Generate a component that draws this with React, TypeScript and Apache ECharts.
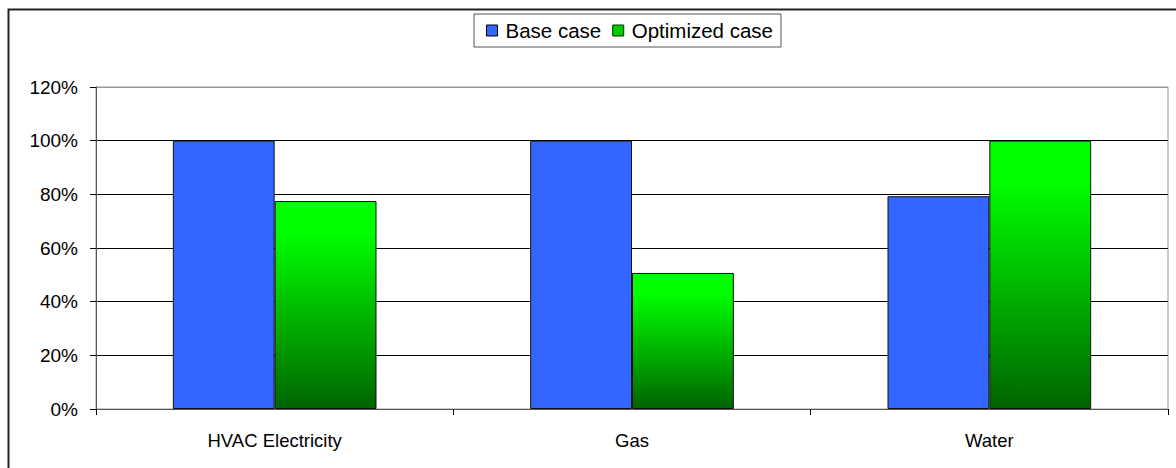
import React, { useEffect, useRef } from "react";
import * as echarts from "echarts";

const categories = ["HVAC Electricity", "Gas", "Water"];
const baseCase = [100, 100, 79.3];
const optimizedCase = [77.5, 50.7, 100];
const seriesNames = ["Base case", "Optimized case"];

export default function App() {
  const ref = useRef<HTMLDivElement>(null);
  useEffect(() => {
    if (!ref.current) return;
    const chart = echarts.init(ref.current, undefined, { renderer: "svg" });
    const font = "'Liberation Sans', Arial, sans-serif";
    const greenGrad = new echarts.graphic.LinearGradient(0, 0, 0, 1, [
      { offset: 0, color: "#00ff00" },
      { offset: 0.15, color: "#00ff00" },
      { offset: 1, color: "#006400" },
    ]);
    chart.setOption({
      animation: false,
      backgroundColor: "#ffffff",
      graphic: [
        {
          type: "rect",
          shape: { x: 8.5, y: 9.5, width: 1180, height: 470 },
          style: { fill: "none", stroke: "#222", lineWidth: 2 },
          z: 100,
          silent: true,
        },
      ],
      legend: {
        left: 474,
        top: 14,
        data: [
          { name: seriesNames[0], itemStyle: { color: "#3366ff", borderColor: "#000", borderWidth: 1 } },
          { name: seriesNames[1], itemStyle: { color: "#00cc00", borderColor: "#003300", borderWidth: 1 } },
        ],
        icon: "rect",
        itemWidth: 11,
        itemHeight: 11,
        itemGap: 11,
        padding: [6, 8, 6, 12],
        borderColor: "#555",
        borderWidth: 1,
        textStyle: { fontFamily: font, fontSize: 20.5, color: "#000", padding: [0, 0, 0, 3] },
      },
      grid: { left: 96, right: 8, top: 87, bottom: 59, show: true, borderColor: "#999", borderWidth: 1 },
      xAxis: {
        type: "category",
        data: categories,
        axisLine: { lineStyle: { color: "#555", width: 1 } },
        axisTick: { show: true, length: 6, lineStyle: { color: "#000" } },
        axisLabel: { fontFamily: font, fontSize: 18.5, color: "#000", margin: 22 },
      },
      yAxis: {
        type: "value",
        min: 0,
        max: 120,
        interval: 20,
        axisLine: { show: true, lineStyle: { color: "#555", width: 1 } },
        axisTick: { show: true, length: 6, lineStyle: { color: "#000" } },
        axisLabel: { fontFamily: font, fontSize: 19, color: "#000", margin: 18, formatter: "{value}%" },
        splitLine: {
          show: true,
          lineStyle: { color: ["#000", "#000", "#000", "#000", "#000", "#000", "#999"], width: 1 },
        },
      },
      series: [
        {
          name: seriesNames[0],
          type: "bar",
          data: baseCase,
          barGap: "0%",
          barCategoryGap: "43%",
          itemStyle: { color: "#3366ff", borderColor: "#111", borderWidth: 1 },
        },
        {
          name: seriesNames[1],
          type: "bar",
          data: optimizedCase,
          barGap: "0%",
          barCategoryGap: "43%",
          itemStyle: { color: greenGrad, borderColor: "#111", borderWidth: 1 },
        },
      ],
    });
    return () => chart.dispose();
  }, []);
  return (
    <div
      ref={ref}
      style={{ position: "absolute", left: 0, top: 0, width: 1176, height: 468 }}
    />
  );
}
